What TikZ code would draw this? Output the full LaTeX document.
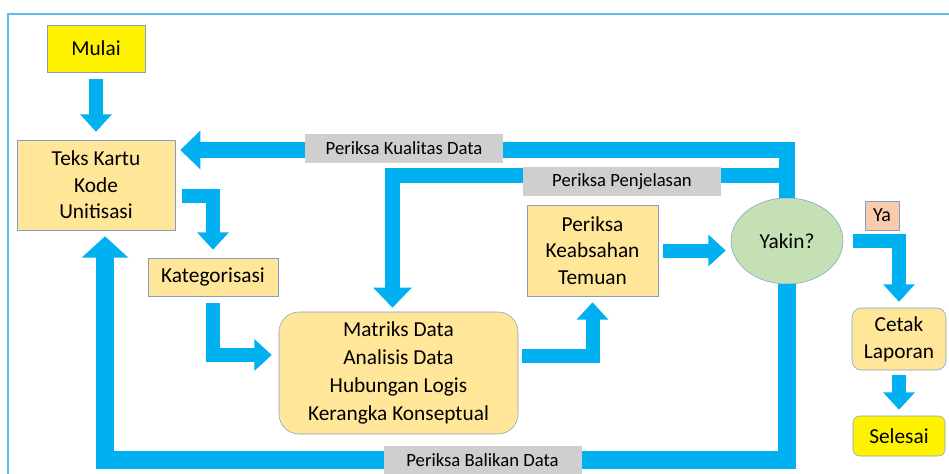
\documentclass[tikz,border=0pt]{standalone}
\usepackage{fontspec}
\setmainfont{Carlito}
\usetikzlibrary{arrows.meta}
\usetikzlibrary{shapes.geometric}
\usetikzlibrary{calc}

\definecolor{flowblue}{HTML}{00B0F0}
\definecolor{boxfill}{HTML}{FFE699}
\definecolor{edgeblue}{RGB}{130,160,195}
\definecolor{taggray}{HTML}{D0CECE}
\definecolor{yakinfill}{HTML}{C5E0B4}
\definecolor{yafill}{HTML}{F8CBAD}
\definecolor{framecol}{RGB}{90,190,235}

\begin{document}
\begin{tikzpicture}[x=0.75pt,y=-0.75pt,
    box/.style={draw=edgeblue,fill=boxfill,align=center,inner sep=0pt,font=\fontsize{16}{20}\selectfont},
    tag/.style={fill=taggray,inner sep=0pt,minimum width=148.5pt,minimum height=21.75pt,font=\fontsize{14}{17}\selectfont},
    flow/.style={flowblue,line width=10.5pt,line join=miter,-{Triangle[width=23pt,length=13pt]}},
    backflow/.style={flowblue,line width=11.5pt,line join=miter,-{Triangle[width=28pt,length=15pt]}}]
    \useasboundingbox (0,0) rectangle (949,474);
    \draw[framecol,line width=0.8pt] (8,474) -- (8,14) -- (949,14);

    \node[box,fill=yellow,minimum width=73.5pt,minimum height=35.25pt] (mulai) at (96,48.5) {Mulai};
    \node[box,minimum width=118.5pt,minimum height=67.5pt] (teks) at (96,185) {Teks Kartu\\Kode\\Unitisasi};
    \node[box,minimum width=97.5pt,minimum height=28.5pt] (kat) at (213,277) {Kategorisasi};
    \node[box,rounded corners=15pt,minimum width=179.25pt,minimum height=91.5pt,font=\fontsize{16}{21}\selectfont] (mat) at (398.5,373)
        {Matriks Data\\Analisis Data\\Hubungan Logis\\Kerangka Konseptual};
    \node[box,minimum width=98.25pt,minimum height=68.25pt] (keab) at (592.5,250.5) {Periksa\\Keabsahan\\Temuan};
    \node[box,ellipse,fill=yakinfill,minimum width=84pt,minimum height=64.5pt] (yakin) at (787,241) {Yakin?};
    \node[box,fill=yafill,minimum width=25.5pt,minimum height=21.75pt,font=\fontsize{15}{18}\selectfont] (ya) at (882,215.5) {Ya};
    \node[box,rounded corners=7pt,minimum width=70.5pt,minimum height=46.5pt] (cetak) at (899,339) {Cetak\\Laporan};
    \node[box,fill=yellow,rounded corners=5pt,minimum width=69pt,minimum height=30pt] (selesai) at (899,436) {Selesai};
    \coordinate (loopbot) at (400,460);

    % main flow
    \draw[flow,shorten <=5.25pt,shorten >=6pt] (mulai) -- (teks);
    \draw[flow,shorten <=5.25pt,shorten >=6pt] ($(teks.east)+(0,11)$) -| (kat.north);
    \draw[flow,shorten <=5.25pt,shorten >=5.25pt] (kat.south) |- ($(mat.west)+(0,-18)$);
    \draw[flow,shorten <=3pt,shorten >=4.5pt] ($(mat.east)+(0,-17)$) -| (keab.south);
    \draw[flow,shorten <=3.75pt,shorten >=3.75pt] (keab.east) -- (keab.east -| yakin.west);
    \draw[flow,shorten <=7.5pt,shorten >=4.5pt] (yakin.east) -| (cetak.north);
    \draw[flow,shorten <=3.75pt,shorten >=4.5pt] (cetak) -- (selesai);

    % checks back
    \draw[backflow,shorten >=3.75pt] (yakin.north) |- ($(teks.east)+(0,-35)$);
    \draw[backflow,shorten >=3pt] ($(yakin.north)+(0,-22)$) -| ($(mat.north)+(-6,0)$);
    \draw[backflow,line width=13pt,-{Triangle[width=34pt,length=16pt]},shorten >=4.5pt]
        (yakin.south) |- (loopbot) -| ($(teks.south)+(9,0)$);

    \node[tag] (kualitas) at (404,148.5) {Periksa Kualitas Data};
    \node[tag] (penjelasan) at (622,181.5) {Periksa Penjelasan};
    \node[tag] (balikan) at (482.5,460) {Periksa Balikan Data};
\end{tikzpicture}
\end{document}
